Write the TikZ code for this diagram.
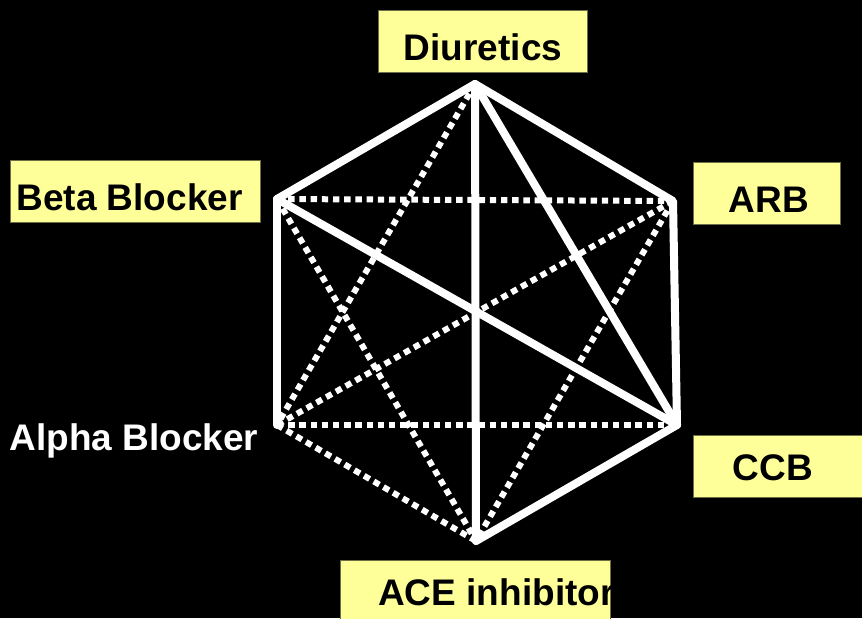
\documentclass[tikz,border=0pt]{standalone}
\usepackage{fontspec}
\setmainfont{Liberation Sans}
\definecolor{labyellow}{RGB}{255,255,153}
\definecolor{boxedge}{RGB}{110,110,70}
\begin{document}
\begin{tikzpicture}[x=0.75pt,y=-0.75pt,
  solidline/.style={draw=white, line width=6pt, line cap=round, line join=round},
  dotline/.style={draw=white, line width=4.5pt, dash pattern=on 4.8pt off 3.6pt},
  labbox/.style={fill=labyellow, draw=boxedge, line width=0.6pt, inner sep=0pt, anchor=north west},
  labtext/.style={font=\fontsize{27.75}{32}\selectfont\bfseries, anchor=base, inner sep=0pt},
  whitetext/.style={labtext, text=white},
  blacktext/.style={labtext, text=black}]
\fill[black] (0,0) rectangle (862,618);
\useasboundingbox (0,0) rectangle (862,618);
\clip (0,0) rectangle (862,618);

% vertices
\coordinate (D) at (475,84);
\coordinate (B) at (277,199);
\coordinate (R) at (673,201);
\coordinate (A) at (277,425);
\coordinate (C) at (677,425);
\coordinate (E) at (476,541);

% dotted connections
\draw[dotline] (B) -- (R);
\draw[dotline] (A) -- (C);
\draw[dotline] (D) -- (A);
\draw[dotline] (B) -- (E);
\draw[dotline] (R) -- (A);
\draw[dotline] (R) -- (E);
\draw[dotline] (A) -- (E);

% solid connections
\draw[solidline] (B) -- (D) -- (R) -- (C) -- (E);
\draw[solidline] (B) -- (A);
\draw[solidline] (D) -- (E);
\draw[solidline] (D) -- (C);
\draw[solidline] (B) -- (C);

% label boxes
\node[labbox, minimum width=156.75pt, minimum height=46.5pt] (diuBox) at (378,10) {};
\node[labbox, minimum width=187.5pt, minimum height=46.5pt] (betaBox) at (10,160) {};
\node[labbox, minimum width=110.25pt, minimum height=46.5pt] (arbBox) at (693,162) {};
\node[labbox, minimum width=135pt, minimum height=46.5pt] (ccbBox) at (693,435) {};
\node[labbox, minimum width=202.5pt, minimum height=60pt] (aceBox) at (340,560) {};

% label texts
\node[blacktext] (diu) at (483,60) {Diuretics};
\node[blacktext] (beta) at (129.5,210) {Beta Blocker};
\node[blacktext] (arb) at (769,212) {ARB};
\node[whitetext] (alpha) at (134,450) {Alpha Blocker};
\node[blacktext] (ccb) at (773,480) {CCB};
\begin{scope}
\clip (340,560) rectangle (610,618);
\node[blacktext, anchor=base west] (ace) at (378,605) {ACE inhibitor};
\end{scope}
\end{tikzpicture}
\end{document}
